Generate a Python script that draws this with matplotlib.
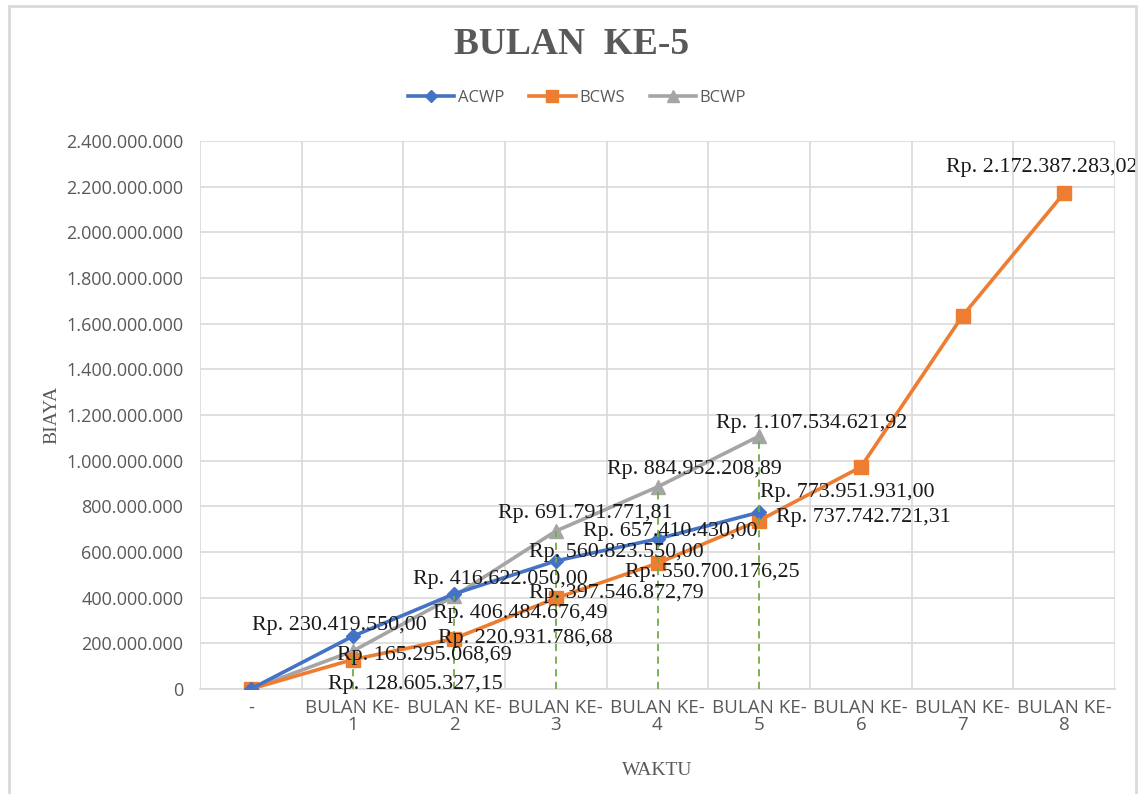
import matplotlib
matplotlib.use("Agg")
import matplotlib.pyplot as plt
from matplotlib.patches import Rectangle
from matplotlib.ticker import FuncFormatter
import numpy as np

# ---------------- data ----------------
categories = ["-", "BULAN KE-\n1", "BULAN KE-\n2", "BULAN KE-\n3", "BULAN KE-\n4",
              "BULAN KE-\n5", "BULAN KE-\n6", "BULAN KE-\n7", "BULAN KE-\n8"]
acwp = [0, 230419550.00, 416622050.00, 560823550.00, 657410430.00, 773951931.00]
bcws = [0, 128605327.15, 220931786.68, 397546872.79, 550700176.25, 737742721.31,
        972000000.0, 1634000000.0, 2172387283.02]
bcwp = [0, 165295068.69, 406484676.49, 691791771.81, 884952208.89, 1107534621.92]
y_ticks = list(range(0, 2400000001, 200000000))

# label placement (pixel offsets from point), style only
acwp_lab = {1: (-13, 11), 2: (46, 14), 3: (60, 8), 4: (13, 7), 5: (88, 20)}
bcws_lab = {1: (63, -25), 2: (71, 0), 3: (60, 5), 4: (55, -9), 5: (104, 3), 8: (-22, 25)}
bcwp_lab = {1: (72, -4), 2: (66, -17), 3: (29, 18), 4: (37, 17), 5: (53, 13)}

C_ACWP = "#4472C4"
C_BCWS = "#ED7D31"
C_BCWP = "#A5A5A5"
GRID = "#D9D9D9"
TXT = "#595959"

SERIF = "Liberation Serif"
SANS = "Open Sans"


def rp(v):
    s = f"{v:,.2f}".replace(",", "X").replace(".", ",").replace("X", ".")
    return "Rp. " + s


def thousands(v, pos):
    return f"{int(round(v)):,}".replace(",", ".")


fig = plt.figure(figsize=(11.38, 7.94), dpi=100)
ax = fig.add_axes([200 / 1138, 105 / 794, 915 / 1138, 548 / 794])

x_all = np.arange(len(categories))

ax.plot(x_all[:len(acwp)], acwp, color=C_ACWP, lw=2.6, marker="D", ms=7.5,
        label="ACWP", zorder=4)
ax.plot(x_all[:len(bcws)], bcws, color=C_BCWS, lw=2.6, marker="s", ms=10,
        label="BCWS", zorder=3)
ax.plot(x_all[:len(bcwp)], bcwp, color=C_BCWP, lw=2.6, marker="^", ms=10.5,
        label="BCWP", zorder=2)

# drop lines
for i in range(1, len(bcwp)):
    ax.vlines(x_all[i], 0, bcwp[i], colors="#70AD47", linestyles=(0, (4, 3)),
              lw=1.3, zorder=5)

# data labels
for series, labs in ((acwp, acwp_lab), (bcws, bcws_lab), (bcwp, bcwp_lab)):
    for i, off in labs.items():
        ax.annotate(rp(series[i]), (x_all[i], series[i]), xytext=off,
                    textcoords="offset pixels", ha="center", va="center",
                    fontsize=15.8, family=SERIF, color="#1a1a1a", zorder=6)

ax.set_xlim(-0.5, len(categories) - 0.5)
ax.set_ylim(0, 2400000000)
ax.set_yticks(y_ticks)
ax.yaxis.set_major_formatter(FuncFormatter(thousands))
ax.set_xticks(x_all)
ax.set_xticklabels(categories, fontsize=13.5, family=SANS, color=TXT,
                   linespacing=0.95)
ax.set_xticks(np.arange(-0.5, len(categories), 1), minor=True)
ax.tick_params(axis="both", which="both", length=0)
ax.tick_params(axis="y", labelsize=13, labelcolor=TXT, pad=12)
ax.tick_params(axis="x", pad=7)
for lab in ax.get_yticklabels():
    lab.set_family(SANS)

ax.grid(True, axis="y", which="major", color=GRID, lw=1.2)
ax.grid(True, axis="x", which="minor", color=GRID, lw=1.2)
ax.set_axisbelow(True)
for s in ["top", "right", "left"]:
    ax.spines[s].set_visible(False)
ax.spines["bottom"].set_color(GRID)
ax.spines["bottom"].set_linewidth(1.2)

ax.set_ylabel("BIAYA", family=SERIF, fontsize=14, color=TXT, labelpad=4)
ax.set_xlabel("WAKTU", family=SERIF, fontsize=14, color=TXT, labelpad=20)

fig.text(572 / 1138, 1 - 45 / 794, "BULAN  KE-5", ha="center", va="center",
         family=SERIF, fontsize=27, fontweight="bold", color=TXT)

leg = fig.legend(loc="center", bbox_to_anchor=(577 / 1138, 1 - 98 / 794),
                 ncol=3, frameon=False, prop={"family": SANS, "size": 12},
                 handlelength=2.8, columnspacing=1.5, handletextpad=0.2,
                 markerscale=0.8)
for t in leg.get_texts():
    t.set_color(TXT)

fig.patches.append(Rectangle((9 / 1138, -0.05), 1127 / 1138, 1.05 - 6 / 794,
                             transform=fig.transFigure, fill=False,
                             edgecolor=GRID, lw=2))

fig.savefig("out.png", dpi=100)
